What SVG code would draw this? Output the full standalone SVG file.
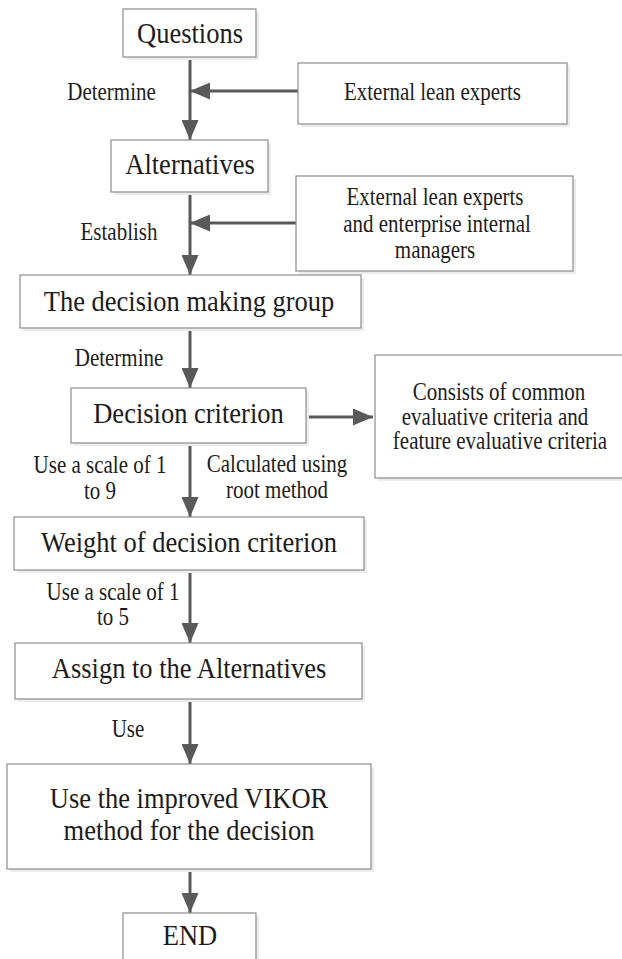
<svg xmlns="http://www.w3.org/2000/svg" width="622" height="959" viewBox="0 0 622 959">
<defs>
<style>
.box{fill:#fff;stroke:#8c8c8c;stroke-width:1.2}
.sh{fill:#ececec}
.t{fill:#1c1c1c;text-anchor:middle;font-family:'Liberation Serif','DejaVu Serif','Noto Serif',Tinos,serif}
.big{font-size:26.5px}
.sm{font-size:21px}
.c{stroke:#595959;stroke-width:3;fill:none;marker-end:url(#ah)}
</style>
<marker id="ah" markerUnits="userSpaceOnUse" markerWidth="20" markerHeight="17" refX="20" refY="8.5" orient="auto" viewBox="0 0 20 17">
<path d="M0,0 L20,8.5 L0,17 z" fill="#595959"/>
</marker>
</defs>
<rect width="622" height="959" fill="#fff"/>

<g id="connectors">
<line class="c" x1="190" y1="57" x2="190" y2="140"/>
<line class="c" x1="298" y1="91" x2="190" y2="91"/>
<line class="c" x1="190" y1="192" x2="190" y2="275"/>
<line class="c" x1="296" y1="223" x2="190" y2="223"/>
<line class="c" x1="190" y1="328" x2="190" y2="388"/>
<line class="c" x1="306" y1="417" x2="373" y2="417"/>
<line class="c" x1="190" y1="443" x2="190" y2="517"/>
<line class="c" x1="190" y1="570" x2="190" y2="643"/>
<line class="c" x1="190" y1="699" x2="190" y2="764"/>
<line class="c" x1="190" y1="869" x2="190" y2="913"/>
</g>

<g id="labels">
<text class="t sm" transform="translate(111.5,100) scale(1,1.15)">Determine</text>
<text class="t sm" transform="translate(119,240) scale(1,1.15)">Establish</text>
<text class="t sm" transform="translate(119,366) scale(1,1.15)">Determine</text>
<text class="t sm" transform="translate(100,473) scale(1,1.15)">Use a scale of 1</text>
<text class="t sm" transform="translate(100,499) scale(1,1.15)">to 9</text>
<text class="t sm" transform="translate(277,472) scale(1,1.15)">Calculated using</text>
<text class="t sm" transform="translate(277,498) scale(1,1.15)">root method</text>
<text class="t sm" transform="translate(113,600) scale(1,1.15)">Use a scale of 1</text>
<text class="t sm" transform="translate(113,625) scale(1,1.15)">to 5</text>
<text class="t sm" transform="translate(128,737) scale(1,1.15)">Use</text>
</g>

<g id="nodes">
<g id="questions">
<rect class="sh" x="126" y="12" width="133" height="48"/>
<rect class="box" x="123" y="9" width="133" height="48"/>
<text class="t big" transform="translate(190,43) scale(1,1.15)">Questions</text>
</g>

<g id="external1">
<rect class="sh" x="301" y="66" width="269" height="61"/>
<rect class="box" x="298" y="63" width="269" height="61"/>
<text class="t sm" transform="translate(432.5,100) scale(1,1.15)">External lean experts</text>
</g>

<g id="alternatives">
<rect class="sh" x="114" y="143" width="157" height="52"/>
<rect class="box" x="111" y="140" width="157" height="52"/>
<text class="t big" transform="translate(190,174) scale(1,1.15)">Alternatives</text>
</g>

<g id="external2">
<rect class="sh" x="299" y="179" width="277" height="95"/>
<rect class="box" x="296" y="176" width="277" height="95"/>
<text class="t sm" transform="translate(435,205) scale(1,1.15)">External lean experts</text>
<text class="t sm" transform="translate(437,232) scale(1,1.15)">and enterprise internal</text>
<text class="t sm" transform="translate(435,258) scale(1,1.15)">managers</text>
</g>

<g id="group">
<rect class="sh" x="23" y="278" width="341" height="53"/>
<rect class="box" x="20" y="275" width="341" height="53"/>
<text class="t big" transform="translate(189,311) scale(1,1.15)">The decision making group</text>
</g>

<g id="criterion">
<rect class="sh" x="74" y="391" width="235" height="55"/>
<rect class="box" x="71" y="388" width="235" height="55"/>
<text class="t big" transform="translate(188.5,423) scale(1,1.15)">Decision criterion</text>
</g>

<g id="consists">
<rect class="sh" x="378" y="358" width="250" height="123"/>
<rect class="box" x="375" y="355" width="250" height="123"/>
<text class="t sm" transform="translate(499,400) scale(1,1.15)">Consists of common</text>
<text class="t sm" transform="translate(495,425) scale(1,1.15)">evaluative criteria and</text>
<text class="t sm" transform="translate(500,449) scale(1,1.15)">feature evaluative criteria</text>
</g>

<g id="weight">
<rect class="sh" x="17" y="520" width="350" height="53"/>
<rect class="box" x="14" y="517" width="350" height="53"/>
<text class="t big" transform="translate(189,552) scale(1,1.15)">Weight of decision criterion</text>
</g>

<g id="assign">
<rect class="sh" x="18" y="646" width="347" height="56"/>
<rect class="box" x="15" y="643" width="347" height="56"/>
<text class="t big" transform="translate(189,678) scale(1,1.15)">Assign to the Alternatives</text>
</g>

<g id="vikor">
<rect class="sh" x="10" y="767" width="364" height="105"/>
<rect class="box" x="7" y="764" width="364" height="105"/>
<text class="t big" transform="translate(189,808) scale(1,1.15)">Use the improved VIKOR</text>
<text class="t big" transform="translate(189,840) scale(1,1.15)">method for the decision</text>
</g>

<g id="end">
<rect class="sh" x="126" y="916" width="133" height="50"/>
<rect class="box" x="123" y="913" width="133" height="50"/>
<text class="t big" transform="translate(190,945) scale(1,1.15)">END</text>
</g>
</g>
</svg>
